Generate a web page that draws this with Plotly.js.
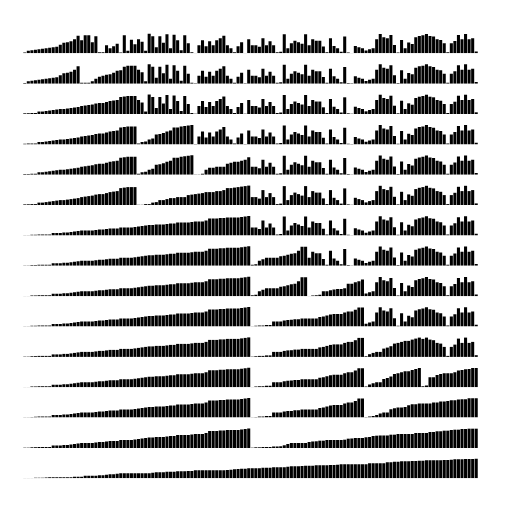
<!DOCTYPE html>
<html>
<head>
<meta charset="utf-8">
<script src="https://cdn.plot.ly/plotly-3.0.1.min.js"></script>
<style>html,body{margin:0;padding:0;background:#fff}#chart{width:512px;height:512px}</style>
</head>
<body>
<div id="chart"></div>
<script>
// Array state shown in the first row (first 16 values already merged)
var initialValues = [
  0.7, 2.5, 3, 3.5, 4, 4.5, 5, 5.5, 6, 6.5, 8.5, 10.5, 11, 12, 14, 17.5,
  13, 18, 18, 11, 17, 1, 1, 8, 5, 7, 9.5, 0.8, 18, 2.5, 13.5, 9,
  14, 11.5, 2.5, 19.5, 17, 6, 17, 10.5, 19, 5, 18.5, 13, 3, 18, 10, 1,
  0.3, 8, 13, 7, 12, 8, 13, 15, 17.5, 8, 5, 1, 7, 11, 0.3, 14,
  8, 8, 6.5, 15, 8, 12, 8, 1, 1.5, 19, 5, 10, 12.5, 11, 9.5, 19,
  8, 14, 12.5, 12.5, 6.7, 1, 15, 7.3, 5, 1.5, 16.7, 0.7, 0.3, 7.3, 6, 5,
  2.7, 4, 5, 14, 19.3, 16, 15, 18.3, 8.3, 0.7, 13.3, 5, 10.7, 9.3, 16, 17.3,
  18, 19.3, 17.3, 16.7, 14, 13.3, 10, 1, 10, 12.3, 18.3, 14, 19.3, 14, 15, 1.7
];
// Sorted (merged) index ranges [start, end) in each step shown, top to bottom
var mergedRanges = [
  [[0,16]],
  [[0,16],[16,32]],
  [[0,32]],
  [[0,32],[32,48]],
  [[0,32],[32,48],[48,64]],
  [[0,32],[32,64]],
  [[0,64]],
  [[0,64],[64,80]],
  [[0,64],[64,80],[80,96]],
  [[0,64],[64,96]],
  [[0,64],[64,96],[96,112]],
  [[0,64],[64,96],[96,112],[112,128]],
  [[0,64],[64,96],[96,128]],
  [[0,64],[64,128]],
  [[0,128]]
];

var n = initialValues.length;
var idx = initialValues.map(function(_, i){ return i; });
var traces = [];
var layout = {
  width: 512, height: 512,
  margin: {l: 23, r: 34, t: 0, b: 0},
  paper_bgcolor: '#fff', plot_bgcolor: '#fff',
  showlegend: false,
  bargap: 0.14,
  xaxis: {range: [-0.5, n - 0.5], visible: false, fixedrange: true}
};
var rowH = 21;
for (var k = 0; k < mergedRanges.length; k++) {
  var state = initialValues.slice();
  mergedRanges[k].forEach(function(r){
    var seg = state.slice(r[0], r[1]).sort(function(a,b){return a-b;});
    for (var j = 0; j < seg.length; j++) state[r[0] + j] = seg[j];
  });
  var yName = k === 0 ? 'y' : 'y' + (k + 1);
  var axKey = k === 0 ? 'yaxis' : 'yaxis' + (k + 1);
  var base = 53.3 + 30.36 * k;
  layout[axKey] = {
    domain: [1 - base / 512, 1 - (base - rowH) / 512],
    range: [0, rowH], visible: false, fixedrange: true, anchor: 'x'
  };
  traces.push({
    type: 'bar', x: idx, y: state, xaxis: 'x', yaxis: yName,
    marker: {color: '#000', line: {width: 0}}, hoverinfo: 'none'
  });
}
Plotly.newPlot('chart', traces, layout, {staticPlot: true});
</script>
</body>
</html>
